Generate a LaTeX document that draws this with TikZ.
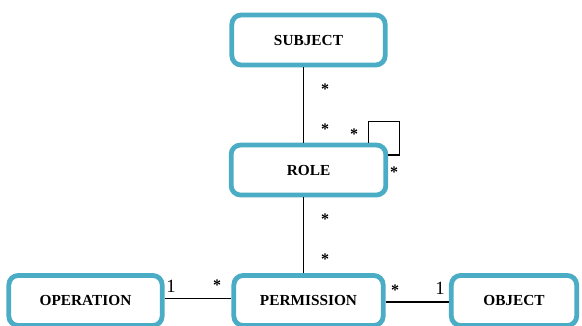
\documentclass[tikz,border=0pt]{standalone}
\usepackage{fontspec}
\setmainfont{Liberation Serif}
\usetikzlibrary{calc}
\definecolor{boxteal}{RGB}{75,172,198}

\begin{document}
\begin{tikzpicture}[x=0.75pt,y=-0.75pt,
    entity/.style={draw=boxteal, line width=3.6pt, rounded corners=7pt, fill=white,
      minimum height=37.5pt, inner sep=0pt, font=\fontsize{11.5}{13}\selectfont\bfseries},
    star/.style={inner sep=0pt, font=\fontsize{12}{14}\selectfont\bfseries},
    one/.style={inner sep=0pt, font=\fontsize{14}{16}\selectfont}]
      \useasboundingbox (0,0) rectangle (582,325);
      \node (Subject) at (308.5,40) [entity, minimum width=115pt] {SUBJECT};
      \node (Role) at (308.5,170) [entity, minimum width=116pt] {ROLE};
      \node (Operation) at (85.5,300.5) [entity, minimum width=115pt] {OPERATION};
      \node (Permission) at (308.5,300.5) [entity, minimum width=112pt] {PERMISSION};
      \node (Object) at (514,300.5) [entity, minimum width=94pt] {OBJECT};
      % multiplicities
      \node (s1) at (325,89) [star] {*};
      \node (s2) at (325,129) [star] {*};
      \node (s3) at (354,134) [star] {*};
      \node (s4) at (394,172) [star] {*};
      \node (s5) at (325,219) [star] {*};
      \node (s6) at (325,259) [star] {*};
      \node (s7) at (217,285) [star] {*};
      \node (s8) at (395,290) [star] {*};
      \node (o1) at (171,286) [one] {1};
      \node (o2) at (440,288) [one] {1};
      \draw[line width=1.1pt]
      ($(Subject.south)+(-5,0)$) to ($(Role.north)+(-5,0)$)
      ($(Role.south)+(-5,0)$) to ($(Permission.north)+(-5,0)$)
      ($(Operation.east)+(0,-2)$) to ($(Permission.west)+(0,-2)$)
      ($(Permission.east)+(0,1.5)$) to ($(Object.west)+(0,1.5)$);
      \draw[line width=1.1pt]
      ($(Role.north)+(60,0)$) |- ++(31,-21) |- ($(Role.east)+(0,-15)$);
\end{tikzpicture}
\end{document}
